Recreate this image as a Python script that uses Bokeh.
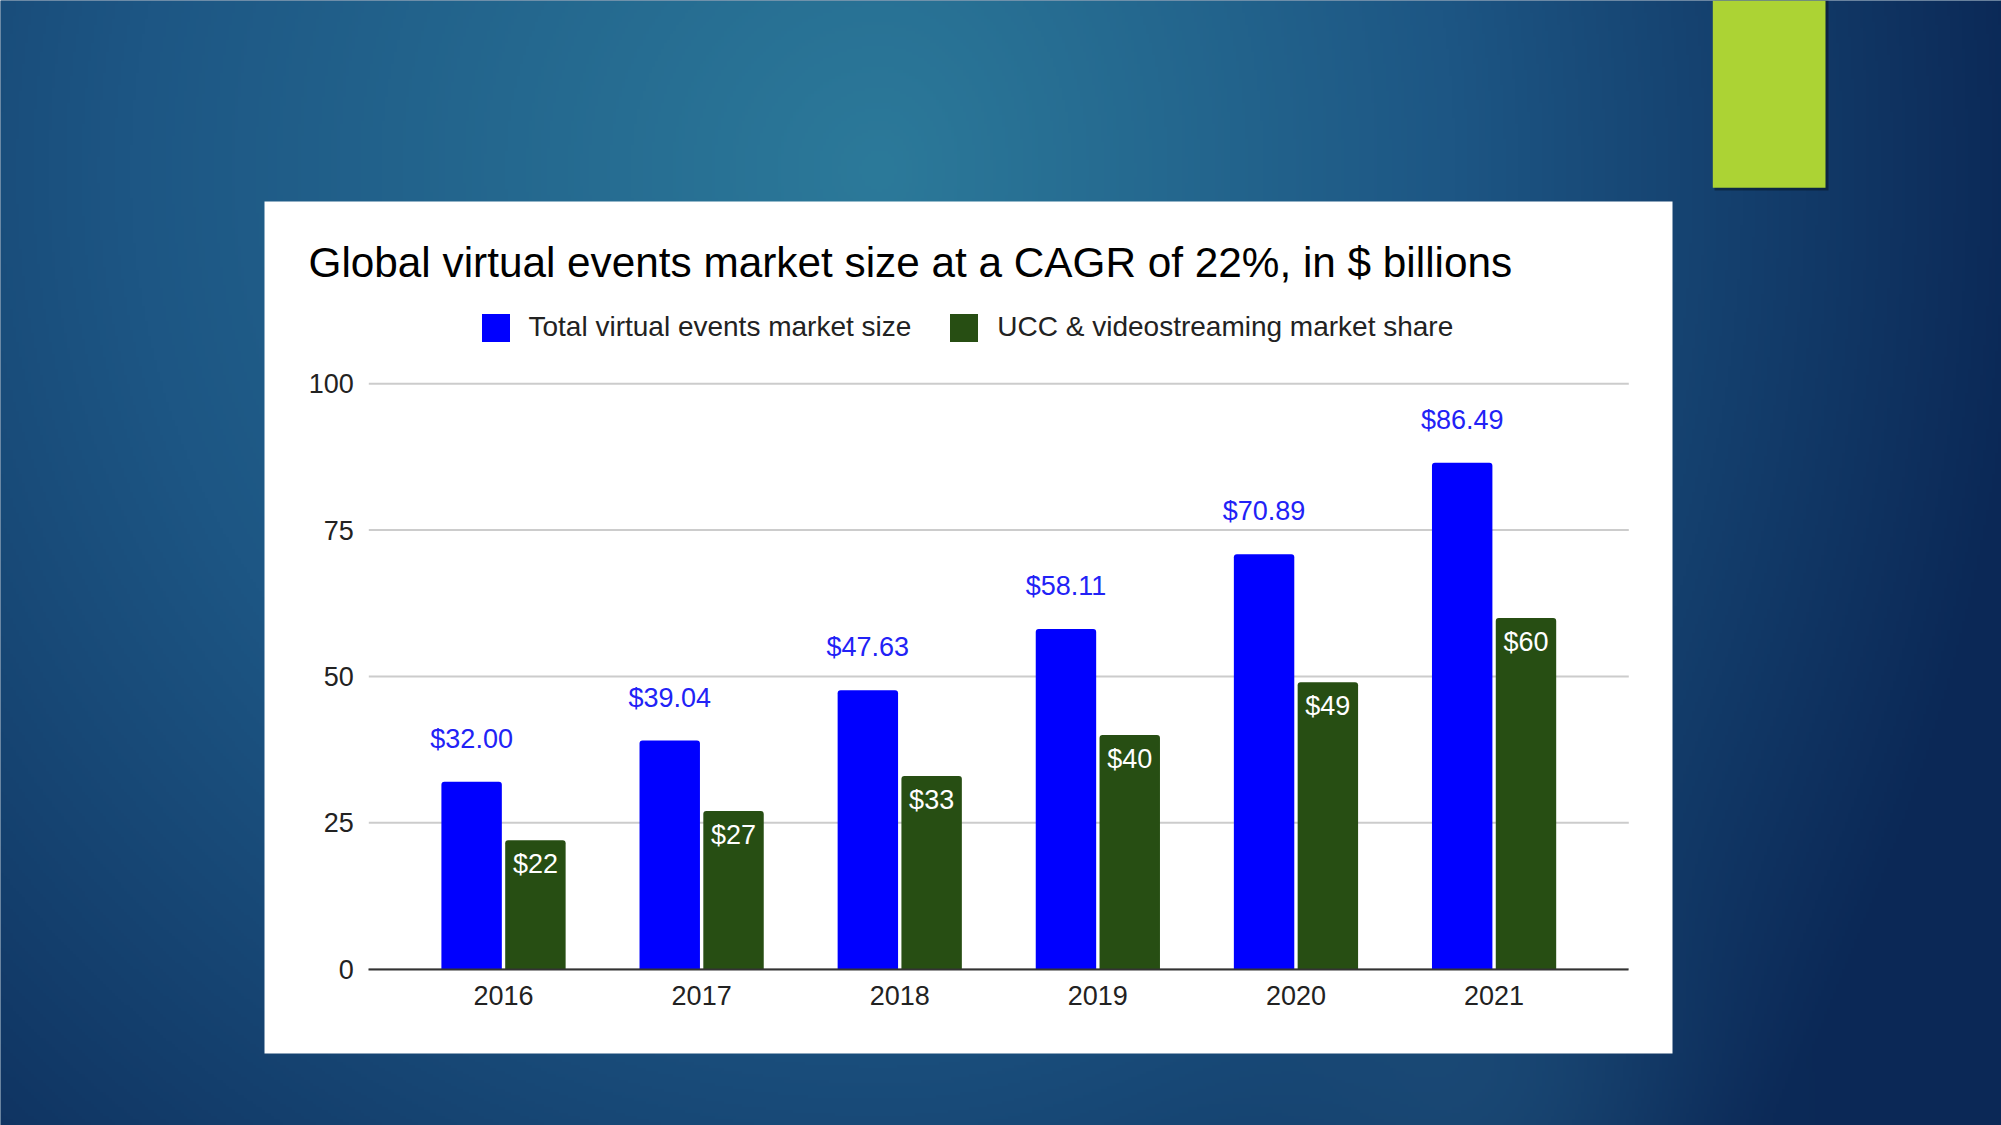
import numpy as np
from bokeh.plotting import figure
from bokeh.models import (Range1d, LinearAxis, FixedTicker, ColumnDataSource,
                          Legend, LegendItem)
from bokeh.transform import dodge
from bokeh.core.properties import value
from bokeh.embed import file_html
from bokeh.resources import INLINE

# ---------------- data ----------------
chart_title = "Global virtual events market size at a CAGR of 22%, in $ billions"
series_names = ["Total virtual events market size", "UCC & videostreaming market share"]
years = ["2016", "2017", "2018", "2019", "2020", "2021"]
total_market = [32.00, 39.04, 47.63, 58.11, 70.89, 86.49]
ucc_share = [22, 27, 33, 40, 49, 60]
y_ticks = [0, 25, 50, 75, 100]

# ---------------- layout (reference pixel coordinates) ----------------
W, H = 2001, 1125
OFF = 0
FONT = "Liberation Sans"


def sx(X):
    return X - OFF


def sy(Y):
    return H - (Y - OFF)


PLOT_L, PLOT_R = sx(368.3), sx(1628.3)
Y0_TOP, Y100_TOP = 968.5 - OFF, 383.3 - OFF
XL, XR = -0.68, 5.68
kx = (PLOT_R - PLOT_L) / (XR - XL)
ky = (Y0_TOP - Y100_TOP) / 100.0

x_range = Range1d(XL - PLOT_L / kx, XR + (W - PLOT_R) / kx)
y_range = Range1d(0 - (H - Y0_TOP) / ky, 100 + Y100_TOP / ky)

p = figure(width=W, height=H, x_range=x_range, y_range=y_range,
           output_backend="svg", toolbar_location=None,
           x_axis_location=None, y_axis_location=None,
           min_border=0, min_border_left=0, min_border_right=0,
           min_border_top=0, min_border_bottom=0,
           outline_line_color=None, border_fill_color="#123f6b",
           background_fill_color="#123f6b")
p.extra_x_ranges = {"px": Range1d(0, W)}
p.extra_y_ranges = {"px": Range1d(0, H)}
p.grid.visible = False

# ---------------- background gradient ----------------
nx, ny = 667, 375
xs = (np.arange(nx) + 0.5) * W / nx + OFF
ys = H - (np.arange(ny) + 0.5) * H / ny + OFF
X, Y = np.meshgrid(xs, ys)
cx, cy = 880.0, 170.0
rx = np.where(X < cx, 1500.0, 1150.0)
t = np.clip(np.sqrt(((X - cx) / rx) ** 2 + ((Y - cy) / 1500.0) ** 2), 0, 1)
stops_t = [0.0, 0.5, 1.0]
R = np.interp(t, stops_t, [44, 29, 11])
G = np.interp(t, stops_t, [122, 86, 40])
B = np.interp(t, stops_t, [154, 132, 86])
spot = 0.3 * np.exp(-((X - 1490) ** 2 + (Y - 1100) ** 2) / (190.0 ** 2))
R = R * (1 - spot) + 42 * spot
G = G * (1 - spot) + 102 * spot
B = B * (1 - spot) + 142 * spot
img = np.empty((ny, nx), dtype=np.uint32)
view = img.view(dtype=np.uint8).reshape((ny, nx, 4))
view[:, :, 0] = R.astype(np.uint8)
view[:, :, 1] = G.astype(np.uint8)
view[:, :, 2] = B.astype(np.uint8)
view[:, :, 3] = 255
p.image_rgba(image=[img], x=0, y=0, dw=W, dh=H, x_range_name="px", y_range_name="px")

# white chart panel
p.quad(left=[sx(264)], right=[sx(1672)], top=[sy(201)], bottom=[sy(1053)],
       fill_color="#ffffff", line_color=None, x_range_name="px", y_range_name="px")

# lime accent block with slight shadow
p.quad(left=[sx(1714)], right=[sx(1828)], top=[sy(0)], bottom=[sy(190)],
       fill_color="#000000", fill_alpha=0.35, line_color=None,
       x_range_name="px", y_range_name="px")
p.quad(left=[sx(1712.3)], right=[sx(1825)], top=[sy(0)], bottom=[sy(187.3)],
       fill_color="#acd334", line_color=None, x_range_name="px", y_range_name="px")

# chart title
p.text(x=[sx(308)], y=[sy(261.5)], text=[chart_title], text_font=value(FONT),
       text_font_size="42.3px", text_color="#000000", text_baseline="alphabetic",
       text_align="left", x_range_name="px", y_range_name="px")

# gridlines
p.segment(x0=XL, x1=XR, y0=y_ticks, y1=y_ticks, line_color="#cccccc", line_width=2)

# ---------------- bars ----------------
src = ColumnDataSource(dict(
    x=list(range(len(years))),
    total=total_market,
    ucc=ucc_share,
    total_lbl=["$%.2f" % v for v in total_market],
    ucc_lbl=["$%d" % round(v) for v in ucc_share],
))
DX = 0.161
BW = 0.305
blue = p.vbar(x=dodge("x", -DX, range=p.x_range), top="total", bottom=0, width=BW,
              source=src, fill_color="#0000ff", line_color=None,
              border_radius=(3, 3, 0, 0))
green = p.vbar(x=dodge("x", DX, range=p.x_range), top="ucc", bottom=0, width=BW,
               source=src, fill_color="#274e13", line_color=None,
               border_radius=(3, 3, 0, 0))

p.text(x=dodge("x", -DX, range=p.x_range), y="total", text="total_lbl", source=src,
       text_align="center", text_baseline="alphabetic", y_offset=-43,
       text_font=value(FONT), text_font_size="27px", text_color="#2222f6")
p.text(x=dodge("x", DX, range=p.x_range), y="ucc", text="ucc_lbl", source=src,
       text_align="center", text_baseline="alphabetic", y_offset=24,
       text_font=value(FONT), text_font_size="27px", text_color="#ffffff")

# ---------------- axes ----------------
yax = LinearAxis(fixed_location=XL, ticker=FixedTicker(ticks=y_ticks),
                 axis_line_color=None, major_tick_line_color=None,
                 minor_tick_line_color=None, major_tick_in=0, major_tick_out=0,
                 minor_tick_in=0, minor_tick_out=0, major_label_standoff=15,
                 major_label_text_font=FONT, major_label_text_font_size="27px",
                 major_label_text_color="#222222")
p.add_layout(yax, "left")

xax = LinearAxis(fixed_location=0, ticker=FixedTicker(ticks=list(range(len(years)))),
                 major_label_overrides={i: yr for i, yr in enumerate(years)},
                 bounds=(XL, XR), axis_line_color="#333333", axis_line_width=2,
                 major_tick_line_color=None, minor_tick_line_color=None,
                 major_tick_in=0, major_tick_out=0, minor_tick_in=0, minor_tick_out=0,
                 major_label_standoff=17, major_label_text_font=FONT,
                 major_label_text_font_size="27px", major_label_text_color="#222222")
p.add_layout(xax, "below")

# ---------------- legend ----------------
legend = Legend(items=[LegendItem(label=series_names[0], renderers=[blue]),
                       LegendItem(label=series_names[1], renderers=[green])],
                orientation="horizontal", location=(sx(481) - 3.5, H - (344.5 - OFF)),
                glyph_width=35, glyph_height=35, label_standoff=16, spacing=35,
                padding=0, margin=0, border_line_color=None, background_fill_alpha=0,
                label_text_font=FONT, label_text_font_size="28px",
                label_text_color="#222222", label_height=35,
                label_text_baseline="middle")
p.add_layout(legend)

open("out.html", "w").write(file_html(p, INLINE))
